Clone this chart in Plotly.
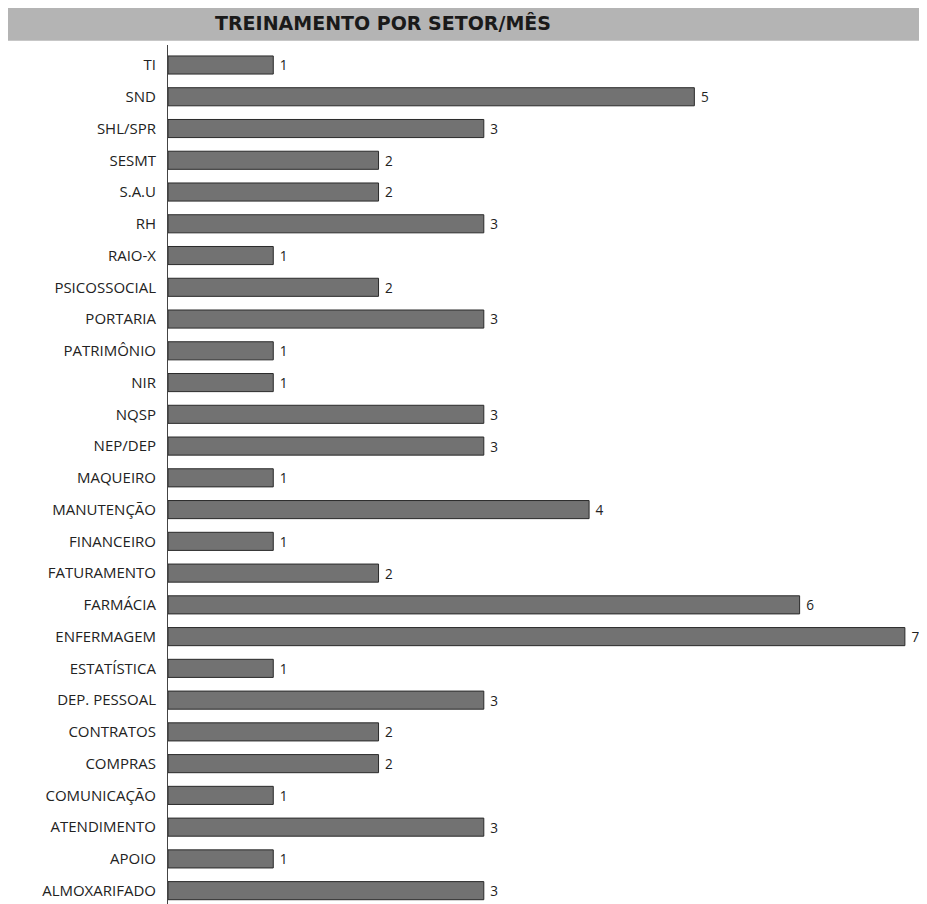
import plotly.graph_objects as go

# setores de baixo para cima (ordem do eixo)
setores = ["ALMOXARIFADO", "APOIO", "ATENDIMENTO", "COMUNICAÇÃO", "COMPRAS",
           "CONTRATOS", "DEP. PESSOAL", "ESTATÍSTICA", "ENFERMAGEM", "FARMÁCIA",
           "FATURAMENTO", "FINANCEIRO", "MANUTENÇÃO", "MAQUEIRO", "NEP/DEP",
           "NQSP", "NIR", "PATRIMÔNIO", "PORTARIA", "PSICOSSOCIAL", "RAIO-X",
           "RH", "S.A.U", "SESMT", "SHL/SPR", "SND", "TI"]
treinamentos = [3, 1, 3, 1, 2,
                2, 3, 1, 7, 6,
                2, 1, 4, 1, 3,
                3, 1, 1, 3, 2, 1,
                3, 2, 2, 3, 5, 1]

fig = go.Figure()

fig.add_trace(go.Bar(
    y=setores,
    x=treinamentos,
    orientation="h",
    text=treinamentos,
    texttemplate=" %{x}",
    textposition="outside",
    textfont=dict(size=15, color="#222222", family="Open Sans"),
    marker=dict(color="#727272", line=dict(color="#2a2a2a", width=1)),
    cliponaxis=False,
    showlegend=False
))

# faixa cinza do título
fig.add_shape(type="rect", xref="paper", yref="paper",
              x0=-0.211, x1=1.0, y0=1.005, y1=1.045,
              fillcolor="#b4b4b4", line=dict(width=0), layer="below")

fig.add_annotation(
    text="<b>TREINAMENTO POR SETOR/MÊS</b>",
    xref="paper", yref="paper", x=0.283, y=1.026,
    showarrow=False, xanchor="center", yanchor="middle",
    font=dict(size=19, color="#1a1a1a", family="DejaVu Sans")
)

fig.update_layout(
    width=919, height=896,
    margin=dict(l=160, r=0, t=37, b=0),
    plot_bgcolor="white",
    paper_bgcolor="white",
    bargap=0.43,
    font=dict(family="Open Sans", size=15, color="#222222"),
    xaxis=dict(range=[0, 7.21], showticklabels=False, showgrid=False,
               zeroline=False, showline=False),
    yaxis=dict(range=[-0.42, 26.63], showgrid=False, showline=True,
               linecolor="#444444", linewidth=1, ticks="",
               ticklabelstandoff=8,
               tickfont=dict(size=15, family="Open Sans", color="#222222")),
)

fig.write_html("out.html")
